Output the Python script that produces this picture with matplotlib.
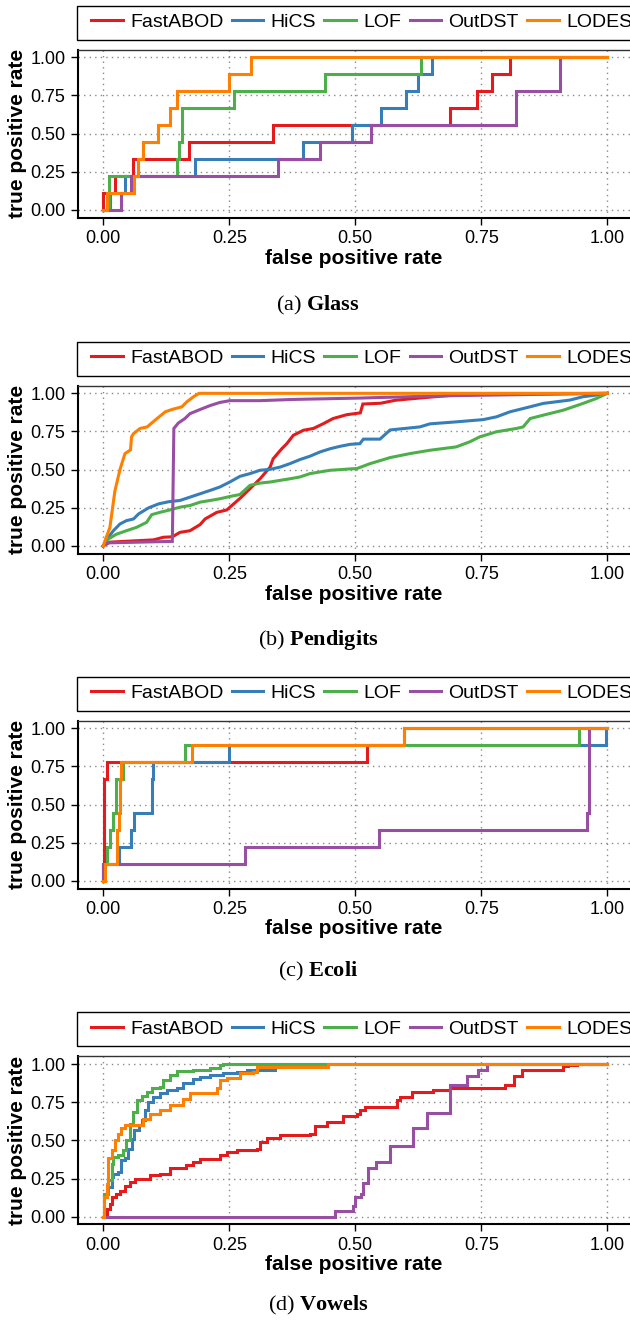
import matplotlib
matplotlib.use("Agg")
import matplotlib.pyplot as plt
from matplotlib.lines import Line2D
from matplotlib.patches import Rectangle
import numpy as np

plt.rcParams['font.family'] = ['Liberation Sans', 'DejaVu Sans']
plt.rcParams['mathtext.fontset'] = 'custom'
plt.rcParams['mathtext.rm'] = 'Liberation Serif'
plt.rcParams['mathtext.bf'] = 'Liberation Serif:bold'

methods = ["FastABOD", "HiCS", "LOF", "OutDST", "LODES"]
colors = ["#E41A1C", "#377EB8", "#4DAF4A", "#984EA3", "#FF7F00"]
ticks = [0.0, 0.25, 0.5, 0.75, 1.0]
tick_labels = ["0.00", "0.25", "0.50", "0.75", "1.00"]
panel_titles = [r"(a) $\mathbf{Glass}$", r"(b) $\mathbf{Pendigits}$",
                r"(c) $\mathbf{Ecoli}$", r"(d) $\mathbf{Vowels}$"]

# ---------------- (a) Glass : tpr in ninths ----------------
glass_fastabod_fpr = [0, 0, 0.023, 0.0595, 0.171, 0.336, 0.688, 0.741, 0.772, 0.806, 1.0]
glass_fastabod_k   = [0, 1, 2, 3, 4, 5, 6, 7, 8, 9, 9]
glass_hics_fpr = [0, 0.013, 0.044, 0.181, 0.396, 0.493, 0.551, 0.600, 0.625, 0.653, 1.0]
glass_hics_k   = [0, 1, 2, 3, 4, 5, 6, 7, 8, 9, 9]
glass_lof_fpr = [0, 0.011, 0.147, 0.151, 0.157, 0.259, 0.440, 0.630, 1.0]
glass_lof_k   = [0, 2, 3, 4, 6, 7, 8, 9, 9]
glass_outdst_fpr = [0, 0.0345, 0.054, 0.347, 0.429, 0.531, 0.818, 0.907, 1.0]
glass_outdst_k   = [0, 1, 2, 3, 4, 5, 7, 9, 9]
glass_lodes_fpr = [0, 0.007, 0.060, 0.069, 0.079, 0.108, 0.132, 0.147, 0.250, 0.293, 1.0]
glass_lodes_k   = [0, 1, 2, 3, 4, 5, 6, 7, 8, 9, 9]

# ---------------- (b) Pendigits ----------------
pen_fastabod_fpr = [0, 0.013, 0.10, 0.119, 0.137, 0.152, 0.172, 0.192, 0.202, 0.225, 0.245, 0.255,
                    0.274, 0.291, 0.311, 0.331, 0.337, 0.354, 0.364, 0.377, 0.397, 0.417, 0.437,
                    0.456, 0.483, 0.51, 0.515, 0.55, 0.58, 0.63, 0.70, 0.80, 1.0]
pen_fastabod_tpr = [0, 0.025, 0.04, 0.057, 0.06, 0.089, 0.10, 0.14, 0.177, 0.22, 0.236, 0.265,
                    0.32, 0.375, 0.44, 0.517, 0.571, 0.637, 0.67, 0.725, 0.758, 0.77, 0.802,
                    0.835, 0.86, 0.872, 0.93, 0.935, 0.955, 0.97, 0.99, 0.995, 1.0]
pen_hics_fpr = [0, 0.01, 0.02, 0.033, 0.046, 0.06, 0.07, 0.09, 0.11, 0.13, 0.152, 0.172, 0.192,
                0.212, 0.231, 0.251, 0.271, 0.291, 0.311, 0.331, 0.351, 0.37, 0.39, 0.41, 0.43,
                0.45, 0.47, 0.49, 0.509, 0.516, 0.549, 0.569, 0.628, 0.648, 0.70, 0.754, 0.78,
                0.807, 0.847, 0.873, 0.926, 0.952, 0.979, 1.0]
pen_hics_tpr = [0, 0.057, 0.10, 0.144, 0.166, 0.177, 0.21, 0.25, 0.276, 0.29, 0.298, 0.32, 0.342,
                0.364, 0.386, 0.419, 0.456, 0.474, 0.496, 0.502, 0.517, 0.539, 0.566, 0.588, 0.616,
                0.637, 0.653, 0.666, 0.67, 0.70, 0.70, 0.76, 0.78, 0.80, 0.813, 0.828, 0.846,
                0.879, 0.912, 0.934, 0.956, 0.978, 0.989, 1.0]
pen_lof_fpr = [0, 0.01, 0.026, 0.046, 0.066, 0.086, 0.096, 0.112, 0.132, 0.152, 0.172, 0.192,
               0.212, 0.231, 0.251, 0.271, 0.291, 0.311, 0.331, 0.351, 0.37, 0.39, 0.41, 0.43,
               0.45, 0.47, 0.49, 0.503, 0.529, 0.569, 0.608, 0.648, 0.70, 0.727, 0.747, 0.78,
               0.82, 0.833, 0.847, 0.873, 0.913, 0.952, 0.979, 1.0]
pen_lof_tpr = [0, 0.046, 0.077, 0.10, 0.122, 0.155, 0.205, 0.22, 0.236, 0.254, 0.265, 0.287,
               0.298, 0.309, 0.324, 0.337, 0.397, 0.412, 0.419, 0.43, 0.44, 0.452, 0.474, 0.485,
               0.496, 0.50, 0.505, 0.507, 0.539, 0.579, 0.605, 0.627, 0.649, 0.682, 0.715, 0.748,
               0.77, 0.78, 0.835, 0.857, 0.89, 0.934, 0.967, 1.0]
pen_outdst_fpr = [0, 0.005, 0.137, 0.140, 0.149, 0.162, 0.172, 0.192, 0.212, 0.231, 0.251, 0.31,
                  0.377, 0.45, 0.509, 0.608, 0.70, 1.0]
pen_outdst_tpr = [0, 0.02, 0.03, 0.77, 0.806, 0.835, 0.867, 0.894, 0.92, 0.94, 0.952, 0.952,
                  0.96, 0.965, 0.969, 0.978, 0.985, 1.0]
pen_lodes_fpr = [0, 0.005, 0.013, 0.023, 0.033, 0.043, 0.054, 0.056, 0.060, 0.073, 0.087, 0.103,
                 0.123, 0.136, 0.156, 0.166, 0.180, 0.190, 1.0]
pen_lodes_tpr = [0, 0.05, 0.12, 0.36, 0.50, 0.605, 0.63, 0.715, 0.736, 0.77, 0.78, 0.825,
                 0.879, 0.894, 0.912, 0.945, 0.98, 1.0, 1.0]

# ---------------- (c) Ecoli : tpr in ninths ----------------
ecoli_fastabod_fpr = [0, 0.002, 0.007, 0.523, 0.597, 1.0]
ecoli_fastabod_k   = [0, 6, 7, 8, 9, 9]
ecoli_hics_fpr = [0, 0.0, 0.032, 0.055, 0.061, 0.096, 0.099, 0.25, 0.997, 1.0]
ecoli_hics_k   = [0, 1, 2, 3, 4, 6, 7, 8, 9, 9]
ecoli_lof_fpr = [0, 0.0, 0.007, 0.013, 0.02, 0.025, 0.04, 0.162, 0.944, 1.0]
ecoli_lof_k   = [0, 1, 2, 3, 4, 6, 7, 8, 9, 9]
ecoli_outdst_fpr = [0, 0.0, 0.281, 0.548, 0.96, 0.963, 1.0]
ecoli_outdst_k   = [0, 1, 2, 3, 4, 9, 9]
ecoli_lodes_fpr = [0, 0.004, 0.028, 0.031, 0.033, 0.035, 0.175, 0.597, 1.0]
ecoli_lodes_k   = [0, 1, 3, 4, 6, 7, 8, 9, 9]

# ---------------- (d) Vowels ----------------
vow_fastabod_fpr = [0, 0.002, 0.0066, 0.013, 0.018, 0.026, 0.033, 0.043, 0.053, 0.063, 0.093,
                    0.112, 0.132, 0.165, 0.178, 0.192, 0.231, 0.245, 0.265, 0.304, 0.311, 0.324,
                    0.351, 0.41, 0.42, 0.443, 0.475, 0.503, 0.509, 0.519, 0.582, 0.589, 0.612,
                    0.655, 0.688, 0.797, 0.814, 0.83, 0.913, 0.923, 0.94, 1.0]
vow_fastabod_tpr = [0, 0.0, 0.05, 0.083, 0.127, 0.149, 0.171, 0.204, 0.226, 0.248, 0.27,
                    0.281, 0.318, 0.336, 0.357, 0.379, 0.401, 0.423, 0.434, 0.445, 0.489, 0.518,
                    0.533, 0.544, 0.592, 0.621, 0.658, 0.675, 0.697, 0.72, 0.763, 0.781, 0.818,
                    0.833, 0.84, 0.862, 0.921, 0.96, 0.986, 0.993, 1.0, 1.0]
vow_hics_fpr = [0, 0.001, 0.0066, 0.0166, 0.02, 0.03, 0.036, 0.043, 0.0496, 0.056, 0.061, 0.07,
                0.076, 0.083, 0.089, 0.099, 0.112, 0.126, 0.146, 0.159, 0.178, 0.192, 0.212,
                0.238, 0.265, 0.285, 0.341, 1.0]
vow_hics_tpr = [0, 0.149, 0.193, 0.259, 0.281, 0.292, 0.369, 0.386, 0.445, 0.511, 0.566, 0.599,
                0.632, 0.697, 0.752, 0.781, 0.807, 0.829, 0.84, 0.873, 0.899, 0.917, 0.928,
                0.943, 0.949, 0.96, 1.0, 1.0]
vow_lof_fpr = [0, 0.002, 0.0098, 0.0166, 0.02, 0.03, 0.04, 0.046, 0.053, 0.0596, 0.067, 0.076,
               0.086, 0.096, 0.112, 0.119, 0.132, 0.146, 0.178, 0.212, 0.231, 0.238, 1.0]
vow_lof_tpr = [0, 0.149, 0.237, 0.347, 0.39, 0.401, 0.434, 0.5, 0.61, 0.687, 0.763, 0.79,
               0.818, 0.84, 0.851, 0.895, 0.928, 0.956, 0.96, 0.971, 0.993, 1.0, 1.0]
vow_outdst_fpr = [0, 0.46, 0.496, 0.499, 0.512, 0.516, 0.526, 0.542, 0.569, 0.615, 0.642, 0.687,
                  0.721, 0.744, 0.761, 1.0]
vow_outdst_tpr = [0, 0.039, 0.072, 0.127, 0.149, 0.219, 0.32, 0.357, 0.461, 0.581, 0.68, 0.862,
                  0.921, 0.96, 1.0, 1.0]
vow_lodes_fpr = [0, 0.002, 0.0066, 0.01, 0.0166, 0.023, 0.03, 0.036, 0.043, 0.079, 0.093, 0.112,
                 0.132, 0.159, 0.172, 0.225, 0.231, 0.245, 0.271, 0.298, 0.304, 0.446, 1.0]
vow_lodes_tpr = [0, 0.127, 0.215, 0.382, 0.436, 0.5, 0.544, 0.583, 0.599, 0.643, 0.675, 0.697,
                 0.73, 0.774, 0.807, 0.84, 0.895, 0.906, 0.943, 0.949, 0.982, 1.0, 1.0]


def ninths(k):
    return [v / 9.0 for v in k]


panels = [
    ([(glass_fastabod_fpr, ninths(glass_fastabod_k)), (glass_hics_fpr, ninths(glass_hics_k)),
      (glass_lof_fpr, ninths(glass_lof_k)), (glass_outdst_fpr, ninths(glass_outdst_k)),
      (glass_lodes_fpr, ninths(glass_lodes_k))], 'steps-post'),
    ([(pen_fastabod_fpr, pen_fastabod_tpr), (pen_hics_fpr, pen_hics_tpr),
      (pen_lof_fpr, pen_lof_tpr), (pen_outdst_fpr, pen_outdst_tpr),
      (pen_lodes_fpr, pen_lodes_tpr)], 'default'),
    ([(ecoli_fastabod_fpr, ninths(ecoli_fastabod_k)), (ecoli_hics_fpr, ninths(ecoli_hics_k)),
      (ecoli_lof_fpr, ninths(ecoli_lof_k)), (ecoli_outdst_fpr, ninths(ecoli_outdst_k)),
      (ecoli_lodes_fpr, ninths(ecoli_lodes_k))], 'steps-post'),
    ([(vow_fastabod_fpr, vow_fastabod_tpr), (vow_hics_fpr, vow_hics_tpr),
      (vow_lof_fpr, vow_lof_tpr), (vow_outdst_fpr, vow_outdst_tpr),
      (vow_lodes_fpr, vow_lodes_tpr)], 'steps-post'),
]

W, H = 630, 1322
fig = plt.figure(figsize=(W / 100, H / 100), dpi=100)

ax_left_px = 78.1
ax_w_px = 554.4
ax_h_px = 167.9
ax_tops = [49.7, 385.7, 720.7, 1056.4]
title_ys = [305, 640, 971, 1305]

for i, (series, ds) in enumerate(panels):
    top = ax_tops[i]
    ax = fig.add_axes([ax_left_px / W, 1 - (top + ax_h_px) / H, ax_w_px / W, ax_h_px / H])
    ax.set_xlim(-0.05, 1.05)
    ax.set_ylim(-0.05, 1.05)
    ax.set_xticks(ticks)
    ax.set_xticklabels(tick_labels)
    ax.set_yticks(ticks)
    ax.set_yticklabels(tick_labels)
    ax.tick_params(direction='out', length=5.2, width=1.0, labelsize=13, pad=4, color='black')
    ax.grid(True, color='#8a8a8a', linestyle=(0, (1, 3)), linewidth=1.0)
    ax.set_axisbelow(True)
    for name, sp in ax.spines.items():
        sp.set_color('black')
        sp.set_linewidth(1.5 if name in ('left', 'bottom') else 1.0)
    ax.spines['top'].set_color('#333333')

    for (fpr, tpr), c in zip(series, colors):
        assert len(fpr) == len(tpr)
        ax.plot(fpr, tpr, color=c, lw=2.2, drawstyle=ds, solid_joinstyle='miter')

    ax.set_xlabel('false positive rate', fontsize=15, fontweight='bold')
    ax.xaxis.set_label_coords(0.4977, -40.4 / ax_h_px)
    ax.xaxis.label.set_va('center')
    ax.set_ylabel('true positive rate', fontsize=15, fontweight='bold')
    ax.yaxis.set_label_coords((18 - ax_left_px) / ax_w_px, 0.5)
    ax.yaxis.label.set_va('center')

    handles = [Line2D([], [], color=c, lw=2.2) for c in colors]
    leg = ax.legend(handles, methods, ncol=5, loc='center left',
                    bbox_to_anchor=((91 - ax_left_px) / ax_w_px, 1 + 27.7 / ax_h_px),
                    bbox_transform=ax.transAxes, frameon=False, fontsize=14,
                    handlelength=1.62, handletextpad=0.38, columnspacing=0.43,
                    borderpad=0, borderaxespad=0)
    ax.add_patch(Rectangle(((77.3 - ax_left_px) / ax_w_px, 1 + 10 / ax_h_px), 1.2, 34 / ax_h_px,
                           transform=ax.transAxes, fill=False, lw=1.0, ec='black', clip_on=False))

    fig.text(318 / W, 1 - title_ys[i] / H, panel_titles[i], ha='center', va='center',
             fontsize=16, family=['Liberation Serif', 'DejaVu Serif'])

fig.savefig('out.png', dpi=100)
